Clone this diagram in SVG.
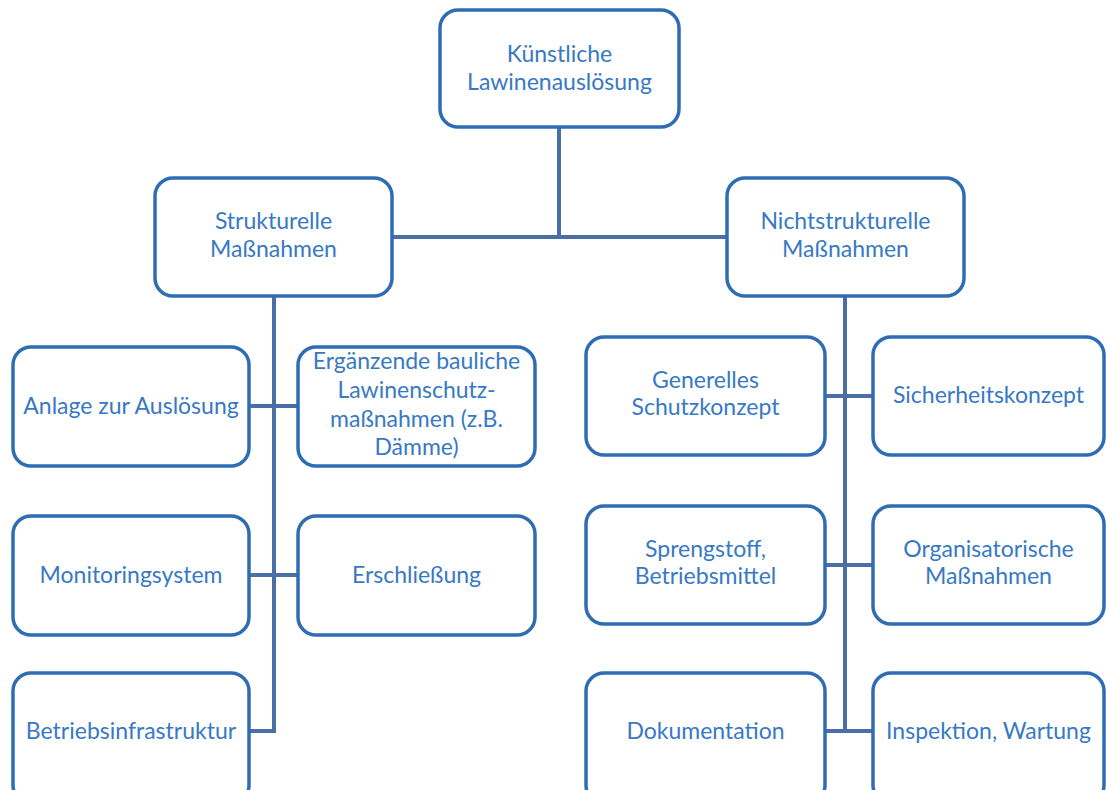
<svg xmlns="http://www.w3.org/2000/svg" width="1106" height="790" viewBox="0 0 1106 790">
<style>
.box{fill:#fff;stroke:#2e6db4;stroke-width:3.5}
.t{font-family:Lato,"Open Sans","Liberation Sans",sans-serif;font-size:23px;fill:#3879c4;text-anchor:middle}
.c{fill:none;stroke:#4a6fa5;stroke-width:4}
</style>
<rect width="1106" height="790" fill="#fff"/>
<g id="connectors">
<path class="c" d="M559 128V237M393 237H727"/>
<path class="c" d="M274 297V731H249M249 406H298M249 575H298"/>
<path class="c" d="M845 297V731M825 396H873M825 565H873M825 731H873"/>
</g>
<g id="n-root"><rect class="box" x="440" y="10" width="239" height="117" rx="18"/><text class="t" x="559.5" y="62">Künstliche</text><text class="t" x="559.5" y="90">Lawinenauslösung</text></g>
<g id="n-struct"><rect class="box" x="155" y="178" width="237" height="118" rx="18"/><text class="t" x="273.5" y="229">Strukturelle</text><text class="t" x="273.5" y="257">Maßnahmen</text></g>
<g id="n-nonstruct"><rect class="box" x="727" y="178" width="237" height="118" rx="18"/><text class="t" x="845.5" y="229">Nichtstrukturelle</text><text class="t" x="845.5" y="257">Maßnahmen</text></g>
<g id="n-anlage"><rect class="box" x="13" y="347" width="236" height="119" rx="18"/><text class="t" x="131" y="414">Anlage zur Auslösung</text></g>
<g id="n-ergaenzend"><rect class="box" x="298" y="347" width="237" height="119" rx="18"/><text class="t" x="416.5" y="369">Ergänzende bauliche</text><text class="t" x="416.5" y="398">Lawinenschutz-</text><text class="t" x="416.5" y="427">maßnahmen (z.B.</text><text class="t" x="416.5" y="455">Dämme)</text></g>
<g id="n-monitoring"><rect class="box" x="13" y="516" width="236" height="119" rx="18"/><text class="t" x="131" y="583">Monitoringsystem</text></g>
<g id="n-erschliessung"><rect class="box" x="298" y="516" width="237" height="119" rx="18"/><text class="t" x="416.5" y="583">Erschließung</text></g>
<g id="n-betrieb"><rect class="box" x="13" y="673" width="236" height="130" rx="18"/><text class="t" x="131" y="739">Betriebsinfrastruktur</text></g>
<g id="n-generelles"><rect class="box" x="586" y="337" width="239" height="118" rx="18"/><text class="t" x="705.5" y="388">Generelles</text><text class="t" x="705.5" y="415">Schutzkonzept</text></g>
<g id="n-sicherheit"><rect class="box" x="873" y="337" width="231" height="118" rx="18"/><text class="t" x="988.5" y="403">Sicherheitskonzept</text></g>
<g id="n-sprengstoff"><rect class="box" x="586" y="506" width="239" height="118" rx="18"/><text class="t" x="705.5" y="557">Sprengstoff,</text><text class="t" x="705.5" y="584">Betriebsmittel</text></g>
<g id="n-organisatorisch"><rect class="box" x="873" y="506" width="231" height="118" rx="18"/><text class="t" x="988.5" y="557">Organisatorische</text><text class="t" x="988.5" y="584">Maßnahmen</text></g>
<g id="n-doku"><rect class="box" x="586" y="673" width="239" height="130" rx="18"/><text class="t" x="705.5" y="739">Dokumentation</text></g>
<g id="n-inspektion"><rect class="box" x="873" y="673" width="231" height="130" rx="18"/><text class="t" x="988.5" y="739">Inspektion, Wartung</text></g>
</svg>
